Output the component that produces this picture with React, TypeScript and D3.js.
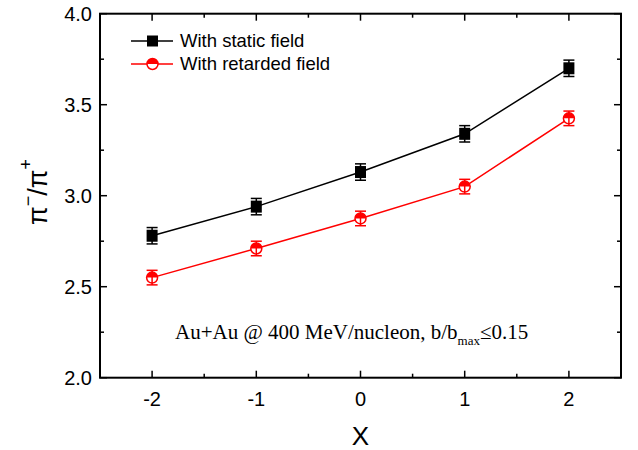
import React from "react";
import * as d3 from "d3";

const xValues = [-2, -1, 0, 1, 2];
const staticValues = [2.78, 2.94, 3.13, 3.34, 3.70];
const staticErrors = [0.045, 0.045, 0.045, 0.045, 0.045];
const retardedValues = [2.55, 2.71, 2.875, 3.05, 3.425];
const retardedErrors = [0.04, 0.04, 0.04, 0.04, 0.04];
const xTicks = [-2, -1, 0, 1, 2];
const xMinor = [-2.5, -1.5, -0.5, 0.5, 1.5, 2.5];
const yTicks = [2.0, 2.5, 3.0, 3.5, 4.0];
const yMinor = [2.25, 2.75, 3.25, 3.75];
const seriesNames = ["With static field", "With retarded field"];

const W = 638, H = 450;
const L = 100, R = 621, T = 13.7, B = 377.7;

export default function App() {
  const x = d3.scaleLinear().domain([-2.5, 2.5]).range([L, R]);
  const y = d3.scaleLinear().domain([2, 4]).range([B, T]);
  const line = d3.line<[number, number]>().x(d => x(d[0])).y(d => y(d[1]));
  const sData = xValues.map((v, i) => [v, staticValues[i]] as [number, number]);
  const rData = xValues.map((v, i) => [v, retardedValues[i]] as [number, number]);
  const axisFont = "Arial, 'Liberation Sans', sans-serif";
  const timesFont = "'Times New Roman', 'Liberation Serif', serif";

  const errBar = (cx: number, v: number, e: number, color: string, key: string) => (
    <g key={key} stroke={color} strokeWidth={1.5}>
      <line x1={cx} x2={cx} y1={y(v + e)} y2={y(v - e)} />
      <line x1={cx - 5.5} x2={cx + 5.5} y1={y(v + e)} y2={y(v + e)} />
      <line x1={cx - 5.5} x2={cx + 5.5} y1={y(v - e)} y2={y(v - e)} />
    </g>
  );

  const halfCircle = (cx: number, cy: number, key: string, r = 5.5) => (
    <g key={key}>
      <circle cx={cx} cy={cy} r={r} fill="white" stroke="red" strokeWidth={1.5} />
      <path d={`M${cx - r},${cy} A${r},${r} 0 0 1 ${cx + r},${cy} Z`} fill="red" />
    </g>
  );

  return (
    <svg width={W} height={H} style={{ position: "absolute", left: 0, top: 0 }}>
      <rect width={W} height={H} fill="white" />
      <path d={line(rData) || ""} fill="none" stroke="red" strokeWidth={1.5} />
      <path d={line(sData) || ""} fill="none" stroke="black" strokeWidth={1.5} />
      {sData.map((d, i) => (
        <g key={"s" + i}>
          {errBar(x(d[0]), d[1], staticErrors[i], "black", "se" + i)}
          <rect x={x(d[0]) - 5.5} y={y(d[1]) - 6} width={11} height={12} fill="black" />
        </g>
      ))}
      {rData.map((d, i) => (
        <g key={"r" + i}>
          {halfCircle(x(d[0]), y(d[1]), "rc" + i)}
          {errBar(x(d[0]), d[1], retardedErrors[i], "red", "re" + i)}
        </g>
      ))}
      <rect x={L} y={T} width={R - L} height={B - T} fill="none" stroke="black" strokeWidth={2} />
      {xTicks.map(t => (
        <g key={"xt" + t} stroke="black" strokeWidth={1.5}>
          <line x1={x(t)} x2={x(t)} y1={B} y2={B - 7} />
          <line x1={x(t)} x2={x(t)} y1={T} y2={T + 7} />
        </g>
      ))}
      {xMinor.map(t => (
        <g key={"xm" + t} stroke="black" strokeWidth={1.5}>
          <line x1={x(t)} x2={x(t)} y1={B} y2={B - 4} />
          <line x1={x(t)} x2={x(t)} y1={T} y2={T + 4} />
        </g>
      ))}
      {yTicks.map(t => (
        <g key={"yt" + t} stroke="black" strokeWidth={1.5}>
          <line x1={L} x2={L + 7} y1={y(t)} y2={y(t)} />
          <line x1={R} x2={R - 7} y1={y(t)} y2={y(t)} />
        </g>
      ))}
      {yMinor.map(t => (
        <g key={"ym" + t} stroke="black" strokeWidth={1.5}>
          <line x1={L} x2={L + 4} y1={y(t)} y2={y(t)} />
          <line x1={R} x2={R - 4} y1={y(t)} y2={y(t)} />
        </g>
      ))}
      {xTicks.map(t => (
        <text key={"xl" + t} x={x(t)} y={406} textAnchor="middle" fontFamily={axisFont} fontSize={20}>
          {t}
        </text>
      ))}
      {yTicks.map(t => (
        <text key={"yl" + t} x={92} y={y(t) + 7} textAnchor="end" fontFamily={axisFont} fontSize={20}>
          {d3.format(".1f")(t)}
        </text>
      ))}
      <text x={(L + R) / 2} y={445} textAnchor="middle" fontFamily={axisFont} fontSize={26}>X</text>
      <text transform={`translate(47,192) rotate(-90)`} textAnchor="middle" fontFamily={axisFont} fontSize={27}>
        π<tspan dy={-13} fontSize={18}>−</tspan><tspan dy={13}>/π</tspan><tspan dy={-15} fontSize={18}>+</tspan>
      </text>
      <line x1={131} x2={173} y1={41} y2={41} stroke="black" strokeWidth={1.5} />
      <rect x={147} y={35.5} width={11} height={11} fill="black" />
      <text x={180} y={47} fontFamily={axisFont} fontSize={18.5}>{seriesNames[0]}</text>
      <line x1={131} x2={173} y1={64} y2={64} stroke="red" strokeWidth={1.5} />
      {halfCircle(152.5, 64, "lg")}
      <text x={180} y={70} fontFamily={axisFont} fontSize={18.5}>{seriesNames[1]}</text>
      <text x={175} y={339} fontFamily={timesFont} fontSize={21}>
        Au+Au @ 400 MeV/nucleon, b/b<tspan dy={6} fontSize={13}>max</tspan><tspan dy={-6}>≤0.15</tspan>
      </text>
    </svg>
  );
}
